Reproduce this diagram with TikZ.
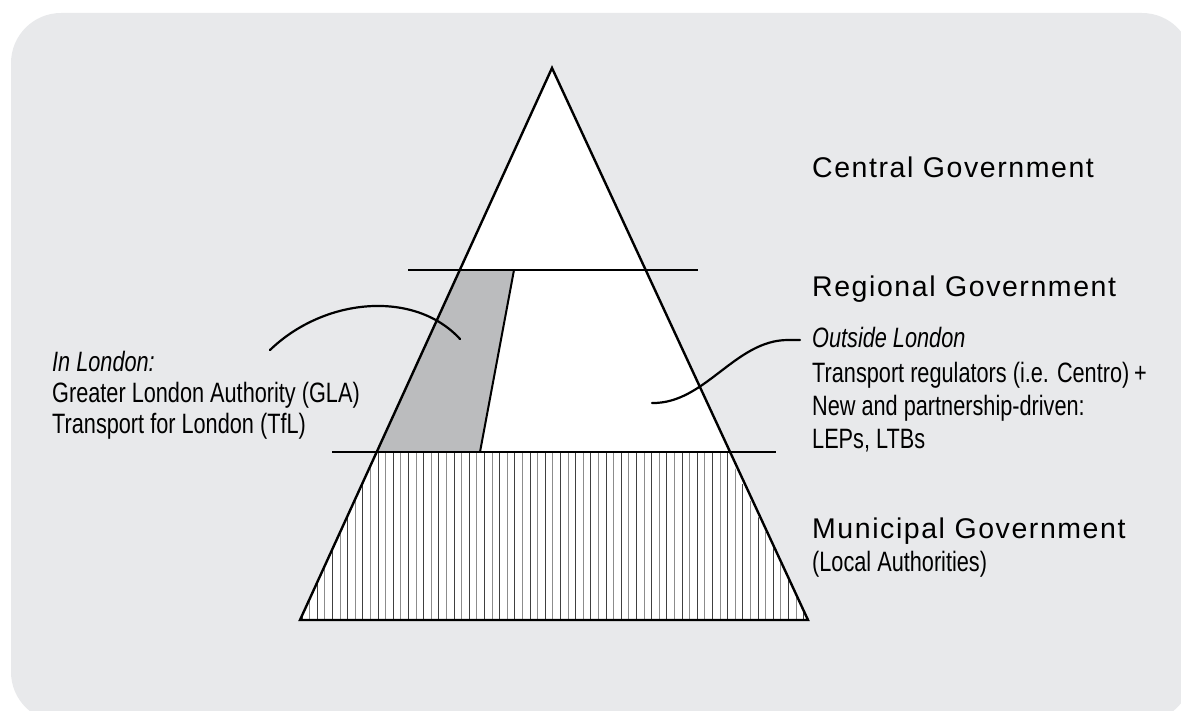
\documentclass[tikz,border=0pt]{standalone}
\usepackage{fontspec}
\newfontfamily\titlefont[LetterSpace=5.5]{Liberation Sans}
\newfontfamily\narrowfont[FakeStretch=0.775]{Liberation Sans}
\definecolor{panelgray}{RGB}{232,233,235}
\definecolor{londongray}{RGB}{187,188,190}
\tikzset{
  tier/.style={font=\titlefont\fontsize{28.5}{34}\selectfont, anchor=base west, inner sep=0pt},
  note/.style={font=\narrowfont\fontsize{28}{33}\selectfont, anchor=base west, inner sep=0pt, align=left},
  outline/.style={line width=2.4pt, line join=miter},
  pointer/.style={line width=2.2pt, line cap=round}
}
\begin{document}
\begin{tikzpicture}[x=1pt, y=-1pt]
  \useasboundingbox (0,0) rectangle (1181,711);
  \clip (0,0) rectangle (1181,711);
  % Background
  \fill[panelgray, rounded corners=50pt] (11,13) rectangle (1192,722);
  % Triangle corners
  \coordinate (apex) at (552,68);
  \coordinate (bl) at (300,620);
  \coordinate (br) at (808,620);
  \fill[white] (apex) -- (bl) -- (br) -- cycle;
  % London share of the regional tier
  \fill[londongray] (459.8,270) -- (514,270) -- (480,452) -- (376.7,452) -- cycle;
  \draw[line width=2pt] (514,270) -- (480,452);
  % Hatching of the municipal tier
  \begin{scope}
    \clip (376.7,452) -- (727.3,452) -- (br) -- (bl) -- cycle;
    \foreach \x in {302,317.2,...,810}
      \draw[black!75, line width=1pt] (\x,450) -- (\x,622);
    \foreach \x in {309.6,324.8,...,810}
      \draw[black!45, line width=1pt] (\x,450) -- (\x,622);
  \end{scope}
  \draw[outline] (apex) -- (bl) -- (br) -- cycle;
  % Tier lines
  \coordinate (t1l) at (408,270);
  \coordinate (t1r) at (698,270);
  \coordinate (t2l) at (332,452);
  \coordinate (t2r) at (776,452);
  \draw[outline] (t1l) -- (t1r);
  \draw[outline] (t2l) -- (t2r);
  % Labels
  \node[tier] (central) at (812,178) {Central Government};
  \node[tier] (regional) at (812,297) {Regional Government};
  \node[tier] (municipal) at (812,538) {Municipal Government};
  \node[note] (local) at (812,571) {(Local Authorities)};
  \node[note] (inlon) at (52,371) {\itshape In London:};
  \node[note] (gla) at (52,402) {Greater London Authority (GLA)};
  \node[note] (tfl) at (52,433) {Transport for London (TfL)};
  \node[note] (outlon) at (812,348) {\itshape Outside London};
  \node[note] (regs) at (812,382) {Transport regulators (i.e. Centro)\,+};
  \node[note] (part) at (812,415) {New and partnership-driven:};
  \node[note] (leps) at (812,448) {LEPs, LTBs};
  % Pointers
  \coordinate (lonfrom) at (270,350);
  \coordinate (lonto) at (460,339);
  \coordinate (outfrom) at (800,340);
  \coordinate (outto) at (652,403);
  \draw[pointer] (lonfrom) .. controls (325,297) and (415,290) .. (lonto);
  \draw[pointer] (outfrom) -- (788,340) .. controls (735,340) and (705,404) .. (outto);
\end{tikzpicture}
\end{document}
